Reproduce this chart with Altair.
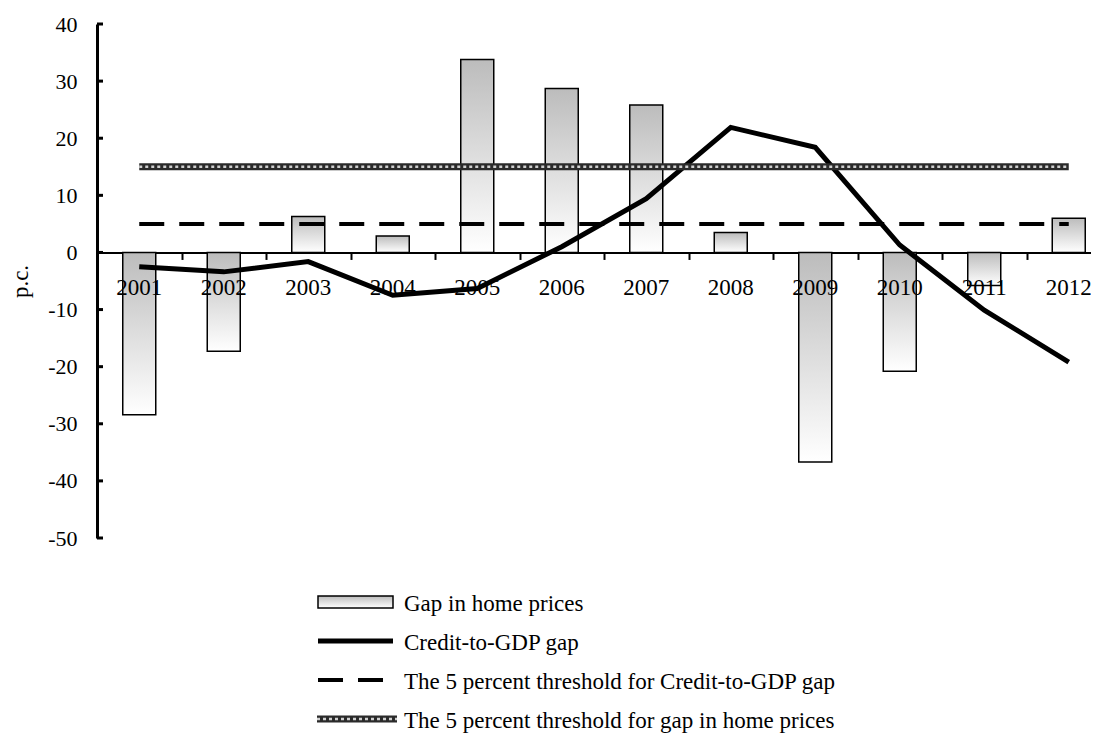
import altair as alt
import pandas as pd

# ---------------- data ----------------
years = ["2001", "2002", "2003", "2004", "2005", "2006",
         "2007", "2008", "2009", "2010", "2011", "2012"]
home_gap = [-28.4, -17.3, 6.3, 2.9, 33.8, 28.7, 25.8, 3.5, -36.7, -20.8, -5.8, 6.0]
credit_gap = [-2.5, -3.4, -1.6, -7.5, -6.3, 1.0, 9.4, 21.9, 18.4, 1.3, -10.1, -19.2]
credit_threshold = 5
home_threshold = 15
y_ticks = [-50, -40, -30, -20, -10, 0, 10, 20, 30, 40]
legend_labels = [
    "Gap in home prices",
    "Credit-to-GDP gap",
    "The 5 percent threshold for Credit-to-GDP gap",
    "The 5 percent threshold for gap in home prices",
]

FONT = "Liberation Serif"
W, H = 994, 514
STEP = 84.5
Y_MIN, Y_MAX = -50, 40

df = pd.DataFrame({
    "year": years,
    "home": home_gap,
    "credit": credit_gap,
    "thr_credit": [credit_threshold] * len(years),
    "thr_home": [home_threshold] * len(years),
})
ticks_df = pd.DataFrame({"v": y_ticks})
legend_df = pd.DataFrame({"row": list(range(len(legend_labels))), "label": legend_labels})

gradient = alt.LinearGradient(
    gradient="linear",
    stops=[alt.GradientStop(color="#bcbcbc", offset=0),
           alt.GradientStop(color="#ffffff", offset=1)],
    x1=0, x2=0, y1=0, y2=1,
)

y_scale = alt.Scale(domain=[Y_MIN, Y_MAX], nice=False, zero=False)
y_axis = alt.Axis(
    values=y_ticks, ticks=False, grid=False,
    labelExpr="'' + datum.value",
    domainColor="black", domainWidth=3,
    labelFont=FONT, labelFontSize=22, labelColor="black", labelPadding=20,
    title="p.c.", titleFont=FONT, titleFontSize=23, titleFontWeight="normal",
    titleColor="black", titleAngle=270, titleX=-77, titleY=H / 2,
    titleAlign="center", titleBaseline="middle",
)
# axis line sits on the zero value: move it up from the bottom edge
zero_from_bottom = H * (0 - Y_MIN) / (Y_MAX - Y_MIN)
x_axis = alt.Axis(
    title=None, labels=False, tickBand="extent",
    offset=-zero_from_bottom,
    domainColor="black", domainWidth=2,
    tickColor="black", tickWidth=2, tickSize=7, grid=False,
)


def xe():
    return alt.X("year:O", sort=years,
                 scale=alt.Scale(domain=years, range=[0, STEP * len(years)],
                                 paddingInner=0, paddingOuter=0),
                 axis=x_axis)


def ye(field):
    return alt.Y(f"{field}:Q", scale=y_scale, axis=y_axis)


base = alt.Chart(df)

bars = base.mark_bar(size=33, fill=gradient, stroke="black", strokeWidth=1.5).encode(
    x=xe(), y=ye("home"))
xlabels = base.mark_text(baseline="top", dy=25, font=FONT, fontSize=23,
                         color="black").encode(
    x=xe(), y=alt.datum(0), text="year:N")
credit = base.mark_line(color="black", strokeWidth=5).encode(x=xe(), y=ye("credit"))
dashed = base.mark_line(color="black", strokeWidth=4, strokeDash=[25, 15]).encode(
    x=xe(), y=ye("thr_credit"))
pat1 = base.mark_line(color="#2a2a2a", strokeWidth=7).encode(x=xe(), y=ye("thr_home"))
pat2 = base.mark_line(color="#d0d0d0", strokeWidth=2.5, strokeDash=[3, 3]).encode(
    x=xe(), y=ye("thr_home"))
yticks = alt.Chart(ticks_df).mark_rule(color="black", strokeWidth=3).encode(
    x=alt.value(0), x2=alt.value(6), y=ye("v"))

main = alt.layer(bars, xlabels, credit, dashed, pat1, pat2, yticks)

# ---------------- legend ----------------
row_y = alt.Y("row:Q", scale=alt.Scale(domain=[0, 3], range=[587, 704]), axis=None)
lg = alt.Chart(legend_df)
lg_text = lg.mark_text(align="left", baseline="alphabetic", font=FONT, fontSize=23,
                       color="black").encode(x=alt.value(307), y=row_y, text="label:N")
lg_rect = lg.transform_filter("datum.row == 0").mark_rect(
    fill=gradient, stroke="black", strokeWidth=1.5, yOffset=-15, y2Offset=-3).encode(
    x=alt.value(221), x2=alt.value(296), y=row_y, y2=alt.Y2("row:Q"))
lg_line = lg.transform_filter("datum.row == 1").mark_rule(
    color="black", strokeWidth=5, yOffset=-9).encode(
    x=alt.value(221), x2=alt.value(296), y=row_y)
lg_dash = lg.transform_filter("datum.row == 2").mark_rule(
    color="black", strokeWidth=4, strokeDash=[25, 15], yOffset=-9).encode(
    x=alt.value(221), x2=alt.value(296), y=row_y)
lg_pat1 = lg.transform_filter("datum.row == 3").mark_rule(
    color="#2a2a2a", strokeWidth=7, yOffset=-9).encode(
    x=alt.value(220), x2=alt.value(300), y=row_y)
lg_pat2 = lg.transform_filter("datum.row == 3").mark_rule(
    color="#d0d0d0", strokeWidth=2.5, strokeDash=[3, 3], yOffset=-9).encode(
    x=alt.value(220), x2=alt.value(300), y=row_y)

legend = alt.layer(lg_text, lg_rect, lg_line, lg_dash, lg_pat1, lg_pat2)

chart = alt.layer(main, legend).resolve_scale(y="independent").properties(
    width=W, height=H,
    padding={"left": 89, "top": 16, "right": 0, "bottom": 198},
    autosize=alt.AutoSizeParams(type="none"),
    background="white",
).configure_view(stroke=None)

chart.save("out.html", embed_options={"renderer": "svg", "actions": False})
